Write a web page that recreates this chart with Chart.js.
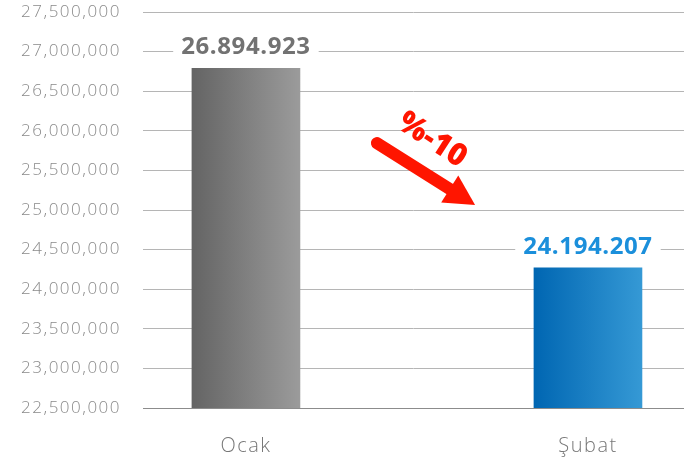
<!DOCTYPE html>
<html>
<head>
<meta charset="utf-8">
<script src="https://cdn.jsdelivr.net/npm/chart.js@4/dist/chart.umd.min.js"></script>
<style>
  html, body { margin: 0; padding: 0; background: #fff; }
  #wrap { width: 684px; height: 467px; }
</style>
</head>
<body>
<div id="wrap"><canvas id="chart"></canvas></div>
<script>
// --- Data ---
const categories = ['Ocak', 'Şubat'];
const barValues = [26790000, 24270000];          // bar heights as drawn
const valueLabels = ['26.894.923', '24.194.207']; // printed values
const labelColors = ['#727272', '#1b8fdb'];
const yMin = 22500000, yMax = 27500000, yStep = 500000;
const changeLabel = '%-10';

// gradients per bar (left -> right)
const barGradients = [['#646464', '#9b9b9b'], ['#0066b2', '#3599d5']];

function barFill(ctx) {
    const chart = ctx.chart;
    const i = ctx.dataIndex;
    if (!chart.chartArea || i === undefined) return barGradients[0][0];
    const cx = chart.scales.x.getPixelForValue(i);
    const g = chart.ctx.createLinearGradient(cx - 54, 0, cx + 54, 0);
    g.addColorStop(0, barGradients[i][0]);
    g.addColorStop(1, barGradients[i][1]);
    return g;
}

// value labels on a white box above each bar
const valueLabelPlugin = {
    id: 'valueLabels',
    afterDatasetsDraw(chart) {
        const c = chart.ctx;
        chart.getDatasetMeta(0).data.forEach((bar, i) => {
            c.save();
            c.letterSpacing = '0.6px';
            c.font = 'bold 24px "Open Sans"';
            const w = c.measureText(valueLabels[i]).width;
            const y = bar.y - 22;
            c.fillStyle = '#fff';
            c.fillRect(bar.x - w / 2 - 8, y - 10, w + 16, 20);
            c.fillStyle = labelColors[i];
            c.textAlign = 'center';
            c.textBaseline = 'middle';
            c.fillText(valueLabels[i], bar.x, y + 1);
            c.restore();
        });
    }
};

// red arrow + percent change
const arrowPlugin = {
    id: 'changeArrow',
    afterDraw(chart) {
        const x = chart.scales.x, y = chart.scales.y, c = chart.ctx;
        const x0 = x.getPixelForValue(0.383), y0 = y.getPixelForValue(25845000);
        const x1 = x.getPixelForValue(0.670), y1 = y.getPixelForValue(25063000);
        const ang = Math.atan2(y1 - y0, x1 - x0);
        const len = Math.hypot(x1 - x0, y1 - y0);
        c.save();
        c.translate(x0, y0);
        c.rotate(ang);
        c.fillStyle = c.strokeStyle = '#ff1500';
        c.lineWidth = 12;
        c.lineCap = 'round';
        c.beginPath();
        c.moveTo(0, 0);
        c.lineTo(len - 26, 0);
        c.stroke();
        c.beginPath();
        c.moveTo(len, 0);
        c.lineTo(len - 30, -16);
        c.lineTo(len - 30, 16);
        c.closePath();
        c.fill();
        c.restore();

        c.save();
        c.letterSpacing = '0px';
        c.translate(x.getPixelForValue(0.544), y.getPixelForValue(25882000));
        c.rotate(33 * Math.PI / 180);
        c.fillStyle = '#ff1500';
        c.font = '800 31px "Open Sans"';
        c.textAlign = 'center';
        c.textBaseline = 'middle';
        c.fillText(changeLabel, 0, 0);
        c.restore();
    }
};

const spacingPlugin = {
    id: 'spacing',
    beforeDraw(chart) { chart.ctx.letterSpacing = '1.5px'; }
};

new Chart(document.getElementById('chart'), {
    type: 'bar',
    data: {
        datasets: [{
            data: barValues.map((v, i) => ({ x: i, y: v })),
            backgroundColor: barFill,
            barThickness: 108,
            borderWidth: 0
        }]
    },
    options: {
        responsive: true,
        maintainAspectRatio: false,
        animation: false,
        layout: { padding: 0 },
        plugins: { legend: { display: false }, tooltip: { enabled: false } },
        scales: {
            x: {
                type: 'linear',
                offset: false,
                min: -0.301,
                max: 1.2808,
                afterBuildTicks(scale) { scale.ticks = categories.map((c, i) => ({ value: i })); },
                afterFit(scale) { scale.height = 59; },
                grid: { display: false, drawTicks: false, offset: false },
                border: { display: true, color: '#8c8c8c', width: 1 },
                ticks: {
                    callback: (v) => categories[v],
                    color: '#777',
                    font: { family: 'Open Sans', size: 20, weight: 300 },
                    padding: 26,
                    maxRotation: 0
                }
            },
            y: {
                min: yMin,
                max: yMax,
                afterFit(scale) { scale.width = 143; scale.paddingTop = 12; scale.paddingBottom = 0; },
                grid: { color: '#b5b5b5', drawTicks: false },
                border: { display: false },
                ticks: {
                    stepSize: yStep,
                    callback: (v) => v.toLocaleString('en-US'),
                    color: '#8a8a8a',
                    font: { family: 'Open Sans', size: 17, weight: 300 },
                    padding: 22
                }
            }
        }
    },
    plugins: [spacingPlugin, valueLabelPlugin, arrowPlugin]
});
</script>
</body>
</html>
